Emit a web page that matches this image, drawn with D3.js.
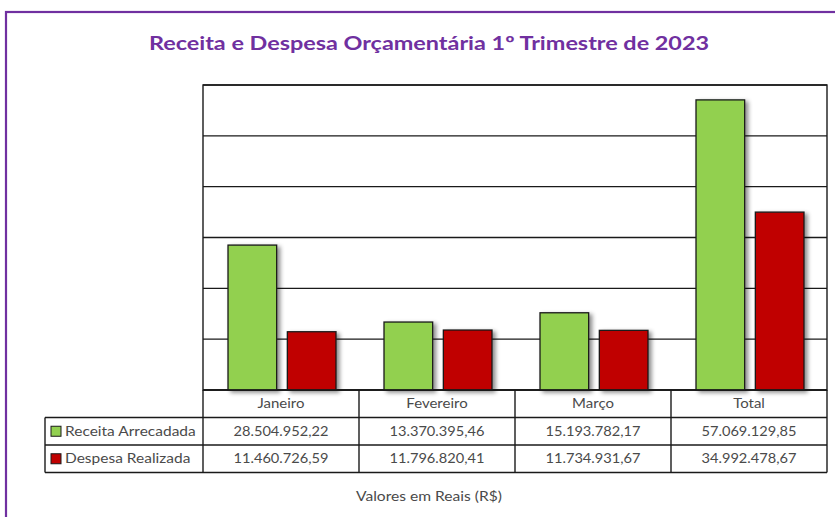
<!DOCTYPE html>
<html><head><meta charset="utf-8">
<script src="https://cdn.jsdelivr.net/npm/d3@7"></script>
<style>
html,body{margin:0;padding:0;background:#fff;}
svg{display:block;}
</style></head>
<body>
<svg id="chart" width="835" height="517"></svg>
<script>
const title = "Receita e Despesa Orçamentária 1º Trimestre de 2023";
const categories = ["Janeiro", "Fevereiro", "Março", "Total"];
const seriesNames = ["Receita Arrecadada", "Despesa Realizada"];
const receita = [28504952.22, 13370395.46, 15193782.17, 57069129.85];
const despesa = [11460726.59, 11796820.41, 11734931.67, 34992478.67];
const gridTicks = [0, 10000000, 20000000, 30000000, 40000000, 50000000, 60000000];
const footnote = "Valores em Reais (R$)";
const colors = ["#92D050", "#C00000"];

const series = [receita, despesa];
const svg = d3.select("#chart");
const font = "Lato, 'Open Sans', sans-serif";
const textColor = "#4a4a4a";

const L = 203, R = 827, T = 85, B = 390;
const tableLeft = 45, rowH = 27.5;

// stretched text helper (reference glyphs are wide)
function stext(g, x, yy, str, opts) {
  const o = Object.assign({size: 12.5, sx: 1.2, anchor: "middle", weight: "normal", fill: textColor}, opts || {});
  return g.append("text")
    .attr("transform", `translate(${x},${yy}) scale(${o.sx},1)`)
    .attr("text-anchor", o.anchor)
    .attr("font-family", font).attr("font-size", o.size).attr("font-weight", o.weight)
    .attr("fill", o.fill).text(str);
}

// outer purple frame
svg.append("rect").attr("x", 6).attr("y", 12).attr("width", 900).attr("height", 600)
  .attr("fill", "none").attr("stroke", "#7030A0").attr("stroke-width", 2.2);

// title
stext(svg, 429, 50, title, {size: 19.5, sx: 1.2, weight: "bold", fill: "#7030A0"});

// shadow filter
const defs = svg.append("defs");
const f = defs.append("filter").attr("id", "sh").attr("x", "-20%").attr("y", "-10%").attr("width", "160%").attr("height", "130%");
f.append("feDropShadow").attr("dx", 3).attr("dy", 2).attr("stdDeviation", 2.2)
  .attr("flood-color", "#000").attr("flood-opacity", 0.45);

const x0 = d3.scaleBand().domain(categories).range([L, R]).paddingInner(0).paddingOuter(0);
const x1 = d3.scaleBand().domain(seriesNames).range([25, x0.bandwidth() - 23]).paddingInner(0.18);
const y = d3.scaleLinear().domain([0, d3.max(gridTicks)]).range([B, T]);

// gridlines
svg.append("g").selectAll("line").data(gridTicks).join("line")
  .attr("x1", L).attr("x2", R).attr("y1", d => y(d)).attr("y2", d => y(d))
  .attr("stroke", "#1a1a1a").attr("stroke-width", 1.4);
// plot border
svg.append("rect").attr("x", L).attr("y", T).attr("width", R - L).attr("height", B - T)
  .attr("fill", "none").attr("stroke", "#1a1a1a").attr("stroke-width", 1.4);

// bars
series.forEach((vals, si) => {
  svg.append("g").selectAll("rect").data(vals).join("rect")
    .attr("x", (d, i) => x0(categories[i]) + x1(seriesNames[si]))
    .attr("y", d => y(d))
    .attr("width", x1.bandwidth())
    .attr("height", d => B - y(d))
    .attr("fill", colors[si])
    .attr("stroke", "#1a1a1a").attr("stroke-width", 1.3)
    .attr("filter", "url(#sh)");
});

// data table
const fmt = d3.formatLocale({decimal: ",", thousands: ".", grouping: [3], currency: ["R$", ""]}).format(",.2f");
const tg = svg.append("g");
const rows = [B, B + rowH, B + 2 * rowH, B + 3 * rowH];
const line = (xa, ya, xb, yb) => tg.append("line").attr("x1", xa).attr("y1", ya).attr("x2", xb).attr("y2", yb)
  .attr("stroke", "#1a1a1a").attr("stroke-width", 1.4);
line(L, rows[0], R, rows[0]);
line(tableLeft, rows[1], R, rows[1]);
line(tableLeft, rows[2], R, rows[2]);
line(tableLeft, rows[3], R, rows[3]);
line(tableLeft, rows[1], tableLeft, rows[3]);
categories.forEach(c => line(x0(c), rows[0], x0(c), rows[3]));
line(R, rows[0], R, rows[3]);

categories.forEach(c => stext(tg, x0(c) + x0.bandwidth() / 2, rows[0] + rowH / 2 + 4.5, c, {sx: 1.2}));

series.forEach((vals, si) => {
  const ry = rows[si + 1];
  tg.append("rect").attr("x", 51).attr("y", ry + rowH / 2 - 5).attr("width", 10).attr("height", 10)
    .attr("fill", colors[si]).attr("stroke", "#1a1a1a").attr("stroke-width", 1);
  stext(tg, 65, ry + rowH / 2 + 4.5, seriesNames[si], {anchor: "start", sx: 1.24});
  vals.forEach((d, i) => stext(tg, x0(categories[i]) + x0.bandwidth() / 2, ry + rowH / 2 + 4.5, fmt(d), {sx: 1.17}));
});

stext(svg, 429, 501, footnote, {size: 12.5, sx: 1.25});
</script>
</body></html>
